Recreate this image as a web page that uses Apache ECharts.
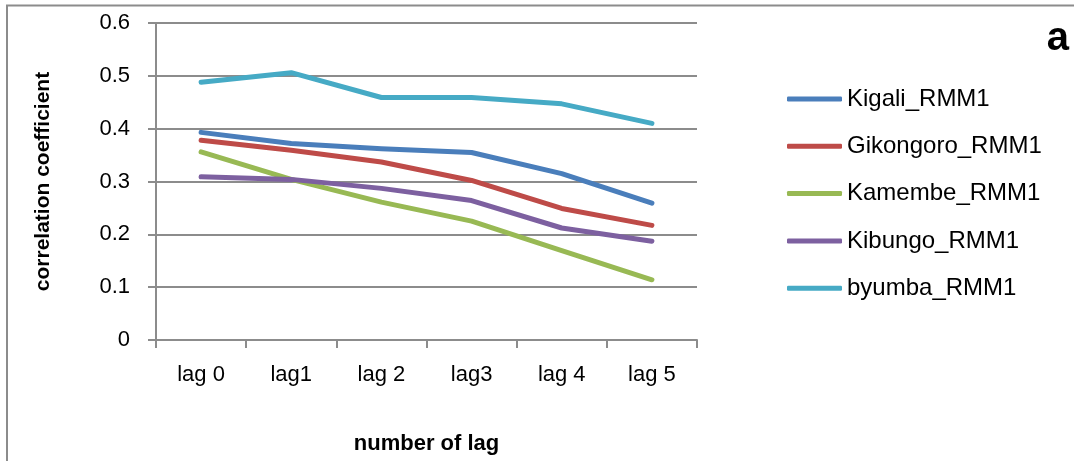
<!DOCTYPE html>
<html>
<head>
<meta charset="utf-8">
<title>Correlation coefficient by lag</title>
<script src="https://cdn.jsdelivr.net/npm/echarts@6/dist/echarts.min.js"></script>
<style>
  html, body { margin: 0; padding: 0; background: #ffffff; }
  #chart { width: 1074px; height: 461px; }
</style>
</head>
<body>
<div id="chart"></div>
<script>
// Lag categories on the x axis
const lags = ['lag 0', 'lag1', 'lag 2', 'lag3', 'lag 4', 'lag 5'];

// Correlation coefficient per station and lag
const kigali    = [0.393, 0.372, 0.362, 0.355, 0.315, 0.259];
const gikongoro = [0.378, 0.359, 0.337, 0.302, 0.249, 0.217];
const kamembe   = [0.356, 0.304, 0.261, 0.225, 0.169, 0.114];
const kibungo   = [0.309, 0.304, 0.287, 0.264, 0.212, 0.187];
const byumba    = [0.488, 0.506, 0.459, 0.459, 0.447, 0.410];

const seriesNames = ['Kigali_RMM1', 'Gikongoro_RMM1', 'Kamembe_RMM1', 'Kibungo_RMM1', 'byumba_RMM1'];
const seriesData = [kigali, gikongoro, kamembe, kibungo, byumba];
const colors = ['#4a7ebb', '#be4b48', '#98b954', '#7d60a0', '#46aac5'];

const FONT = '"Liberation Sans", Arial, sans-serif';
const GRAY = '#8c8c8c';

const chart = echarts.init(document.getElementById('chart'), null, { renderer: 'canvas' });

chart.setOption({
  animation: false,
  backgroundColor: '#ffffff',
  color: colors,
  title: {
    text: 'a',
    right: 0,
    top: 14,
    textStyle: { fontFamily: FONT, fontSize: 40, fontWeight: 'bold', color: '#000000' }
  },
  graphic: [
    {
      type: 'polyline',
      silent: true,
      shape: { points: [[7, 461], [7, 5.5], [1074, 5.5]] },
      style: { stroke: GRAY, lineWidth: 2, fill: null }
    }
  ],
  legend: {
    orient: 'vertical',
    left: 787,
    top: 87,
    padding: 0,
    itemWidth: 55,
    itemHeight: 5,
    itemGap: 23.3,
    icon: 'roundRect',
    data: seriesNames,
    textStyle: { fontFamily: FONT, fontSize: 24, lineHeight: 24, color: '#000000' }
  },
  grid: { left: 156, right: 377, top: 23, bottom: 121, containLabel: false },
  xAxis: {
    type: 'category',
    data: lags,
    boundaryGap: true,
    name: 'number of lag',
    nameLocation: 'middle',
    nameGap: 93,
    nameTextStyle: { fontFamily: FONT, fontSize: 22, fontWeight: 'bold', color: '#000000' },
    axisLine: { show: true, lineStyle: { color: GRAY, width: 2 } },
    axisTick: { show: true, length: 8, alignWithLabel: false, lineStyle: { color: GRAY, width: 2 } },
    axisLabel: { margin: 24, fontFamily: FONT, fontSize: 22, color: '#000000' },
    splitLine: { show: false }
  },
  yAxis: {
    type: 'value',
    min: 0,
    max: 0.6,
    interval: 0.1,
    name: 'correlation coefficient',
    nameLocation: 'middle',
    nameRotate: 90,
    nameGap: 102,
    nameTextStyle: { fontFamily: FONT, fontSize: 21, fontWeight: 'bold', color: '#000000' },
    axisLine: { show: true, lineStyle: { color: GRAY, width: 2 } },
    axisTick: { show: true, length: 8, lineStyle: { color: GRAY, width: 2 } },
    axisLabel: {
      margin: 26,
      fontFamily: FONT,
      fontSize: 22,
      color: '#000000',
      formatter: v => (v === 0 ? '0' : v.toFixed(1))
    },
    splitLine: { show: true, lineStyle: { color: GRAY, width: 2 } }
  },
  series: seriesNames.map((name, i) => ({
    name: name,
    type: 'line',
    data: seriesData[i],
    symbol: 'none',
    showSymbol: false,
    smooth: false,
    lineStyle: { width: 5, color: colors[i], cap: 'round', join: 'round' },
    itemStyle: { color: colors[i] },
    emphasis: { disabled: true }
  }))
});
</script>
</body>
</html>
